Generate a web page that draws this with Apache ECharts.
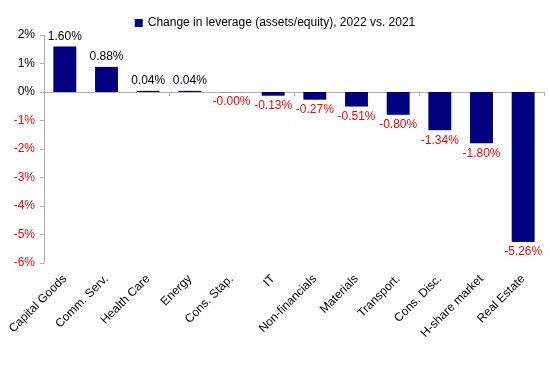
<!DOCTYPE html>
<html>
<head>
<meta charset="utf-8">
<script src="https://cdn.jsdelivr.net/npm/echarts@6/dist/echarts.min.js"></script>
<style>html,body{margin:0;padding:0;background:#fff;}#c{width:550px;height:381px;}</style>
</head>
<body>
<div id="c"></div>
<script>
const categories = ["Capital Goods","Comm. Serv.","Health Care","Energy","Cons. Stap.","IT","Non-financials","Materials","Transport.","Cons. Disc.","H-share market","Real Estate"];
const values = [1.60, 0.88, 0.04, 0.04, -0.004, -0.13, -0.27, -0.51, -0.80, -1.34, -1.80, -5.26];
const seriesName = "Change in leverage (assets/equity), 2022 vs. 2021";
const yMin = -6, yMax = 2, yStep = 1;

const FONT = "Liberation Sans, Arial, sans-serif";
const chart = echarts.init(document.getElementById('c'));
chart.setOption({
  animation: false,
  textStyle: { fontFamily: FONT },
  legend: {
    top: 12, left: 'center',
    itemWidth: 8, itemHeight: 8, itemGap: 4,
    icon: 'rect',
    textStyle: { fontFamily: FONT, fontSize: 12, color: '#000' },
    data: [seriesName]
  },
  grid: { left: 44, right: 6, top: 35, bottom: 118, containLabel: false },
  xAxis: [
    {
      type: 'category', data: categories,
      axisLine: { onZero: true, lineStyle: { color: '#b0b0b0', width: 1 } },
      axisTick: { show: true, length: 4, alignWithLabel: false, lineStyle: { color: '#b0b0b0' } },
      axisLabel: { show: false },
      splitLine: { show: false }
    },
    {
      type: 'category', data: categories, position: 'bottom',
      axisLine: { show: false, onZero: false },
      axisTick: { show: false },
      axisLabel: { show: true, rotate: 45, margin: 14, interval: 0, fontFamily: FONT, fontSize: 12, color: '#000' },
      splitLine: { show: false }
    }
  ],
  yAxis: {
    type: 'value', min: yMin, max: yMax, interval: yStep,
    axisLine: { show: true, lineStyle: { color: '#b0b0b0' } },
    axisTick: { show: true, length: 4, lineStyle: { color: '#b0b0b0' } },
    splitLine: { show: false },
    axisLabel: {
      margin: 9, fontFamily: FONT, fontSize: 12,
      formatter: v => (v < 0 ? '{n|' + v + '%}' : '{p|' + v + '%}'),
      rich: { n: { color: '#ff0000', fontFamily: FONT, fontSize: 12 }, p: { color: '#000', fontFamily: FONT, fontSize: 12 } }
    }
  },
  series: [{
    name: seriesName, type: 'bar', xAxisIndex: 0,
    barWidth: '55%',
    itemStyle: { color: '#000080' },
    data: values.map(v => ({
      value: v,
      label: {
        show: true,
        position: v < 0 ? 'bottom' : 'top',
        distance: 4,
        color: v < 0 ? '#ff0000' : '#000',
        fontFamily: FONT, fontSize: 12,
        formatter: p => p.value.toFixed(2) + '%'
      }
    }))
  }]
});
</script>
</body>
</html>
